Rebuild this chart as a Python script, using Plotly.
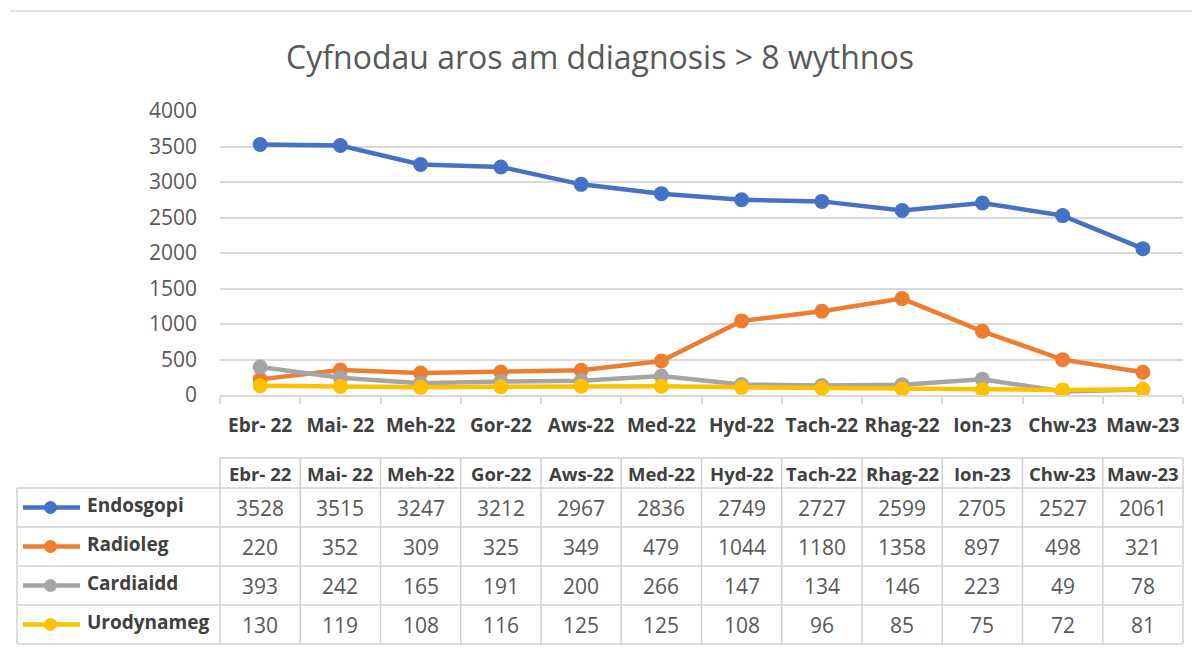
import plotly.graph_objects as go

months = ["Ebr- 22", "Mai- 22", "Meh-22", "Gor-22", "Aws-22", "Med-22", "Hyd-22",
          "Tach-22", "Rhag-22", "Ion-23", "Chw-23", "Maw-23"]
endosgopi = [3528, 3515, 3247, 3212, 2967, 2836, 2749, 2727, 2599, 2705, 2527, 2061]
radioleg = [220, 352, 309, 325, 349, 479, 1044, 1180, 1358, 897, 498, 321]
cardiaidd = [393, 242, 165, 191, 200, 266, 147, 134, 146, 223, 49, 78]
urodynameg = [130, 119, 108, 116, 125, 125, 108, 96, 85, 75, 72, 81]

series_names = ["Endosgopi", "Radioleg", "Cardiaidd", "Urodynameg"]
series_values = [endosgopi, radioleg, cardiaidd, urodynameg]
colors = ["#4472C4", "#ED7D31", "#A5A5A5", "#FFC000"]

W, H = 1200, 668
FONT = "Open Sans"
OFF = 8  # page body margin

def px(x):
    return (x - OFF) / W

def py(y):
    return 1 - (y - OFF) / H

fig = go.Figure()
for name, vals, c in zip(series_names, series_values, colors):
    fig.add_trace(go.Scatter(
        x=months, y=vals, name=name, mode="lines+markers",
        line=dict(color=c, width=4.5),
        marker=dict(color=c, size=15),
        showlegend=False,
    ))

plot_left, plot_right = 220, 1183
plot_top, plot_bottom = 111, 395

fig.update_layout(
    width=W, height=H, autosize=False,
    margin=dict(l=0, r=0, t=0, b=0, pad=0, autoexpand=False),
    paper_bgcolor="white", plot_bgcolor="white",
    font=dict(family=FONT, color="#595959"),
    title=dict(text="Cyfnodau aros am ddiagnosis > 8 wythnos", automargin=False,
               x=px(600), xanchor="center", xref="paper", y=py(58), yanchor="middle", yref="container",
               font=dict(size=32, color="#595959", family=FONT)),
    xaxis=dict(domain=[px(plot_left), px(plot_right)], type="category", automargin=False,
               showgrid=False, showline=True, linecolor="#d9d9d9", linewidth=1.5,
               ticks="outside", tickson="boundaries", ticklen=7, tickcolor="#d9d9d9",
               tickwidth=1.5, ticklabelstandoff=12, tickangle=0,
               tickfont=dict(size=19, color="#404040", family=FONT, weight="bold"),
               range=[-0.5, 11.5], fixedrange=True),
    yaxis=dict(domain=[py(plot_bottom), py(plot_top)], range=[0, 4000], automargin=False,
               dtick=500, showgrid=True, gridcolor="#d9d9d9", gridwidth=1.5,
               zeroline=False, showline=False, ticks="", ticklabelstandoff=22,
               tickfont=dict(size=21, color="#595959", family=FONT)),
)

shapes = []
annotations = []
line_col = "#d0d0d0"

shapes.append(dict(type="line", xref="paper", yref="paper",
                   x0=px(10), x1=1, y0=py(11), y1=py(11),
                   line=dict(color="#d9d9d9", width=1.5)))

col_edges = [plot_left + (plot_right - plot_left) * i / len(months) for i in range(len(months) + 1)]
row_edges = [458, 488, 527, 566, 605, 644]
label_left = 17

for yv in row_edges[:1]:
    shapes.append(dict(type="line", xref="paper", yref="paper", x0=px(plot_left), x1=px(plot_right),
                       y0=py(yv), y1=py(yv), line=dict(color=line_col, width=1.5)))
for yv in row_edges[1:]:
    shapes.append(dict(type="line", xref="paper", yref="paper", x0=px(label_left), x1=px(plot_right),
                       y0=py(yv), y1=py(yv), line=dict(color=line_col, width=1.5)))
for xv in col_edges:
    shapes.append(dict(type="line", xref="paper", yref="paper", x0=px(xv), x1=px(xv),
                       y0=py(row_edges[0]), y1=py(row_edges[-1]), line=dict(color=line_col, width=1.5)))
shapes.append(dict(type="line", xref="paper", yref="paper", x0=px(label_left), x1=px(label_left),
                   y0=py(row_edges[1]), y1=py(row_edges[-1]), line=dict(color=line_col, width=1.5)))

for i, m in enumerate(months):
    cx = (col_edges[i] + col_edges[i + 1]) / 2
    annotations.append(dict(xref="paper", yref="paper", x=px(cx), y=py((row_edges[0] + row_edges[1]) / 2),
                            text=f"<b>{m}</b>", showarrow=False, xanchor="center", yanchor="middle",
                            font=dict(size=18.5, color="#404040", family=FONT)))

for r, (name, vals, c) in enumerate(zip(series_names, series_values, colors)):
    cy = (row_edges[r + 1] + row_edges[r + 2]) / 2
    shapes.append(dict(type="line", xref="paper", yref="paper", x0=px(23), x1=px(80),
                       y0=py(cy), y1=py(cy), line=dict(color=c, width=4.5)))
    shapes.append(dict(type="circle", xref="paper", yref="paper", x0=px(44), x1=px(57),
                       y0=py(cy + 6.5), y1=py(cy - 6.5), fillcolor=c, line=dict(color=c, width=0)))
    annotations.append(dict(xref="paper", yref="paper", x=px(85), y=py(cy - 3),
                            text=f"<b>{name}</b>", showarrow=False, xanchor="left", yanchor="middle",
                            font=dict(size=19, color="#404040", family=FONT)))
    for i, v in enumerate(vals):
        cx = (col_edges[i] + col_edges[i + 1]) / 2
        annotations.append(dict(xref="paper", yref="paper", x=px(cx), y=py(cy),
                                text=str(v), showarrow=False, xanchor="center", yanchor="middle",
                                font=dict(size=21, color="#595959", family=FONT)))

fig.update_layout(shapes=shapes, annotations=annotations)
fig.write_html("out.html")
